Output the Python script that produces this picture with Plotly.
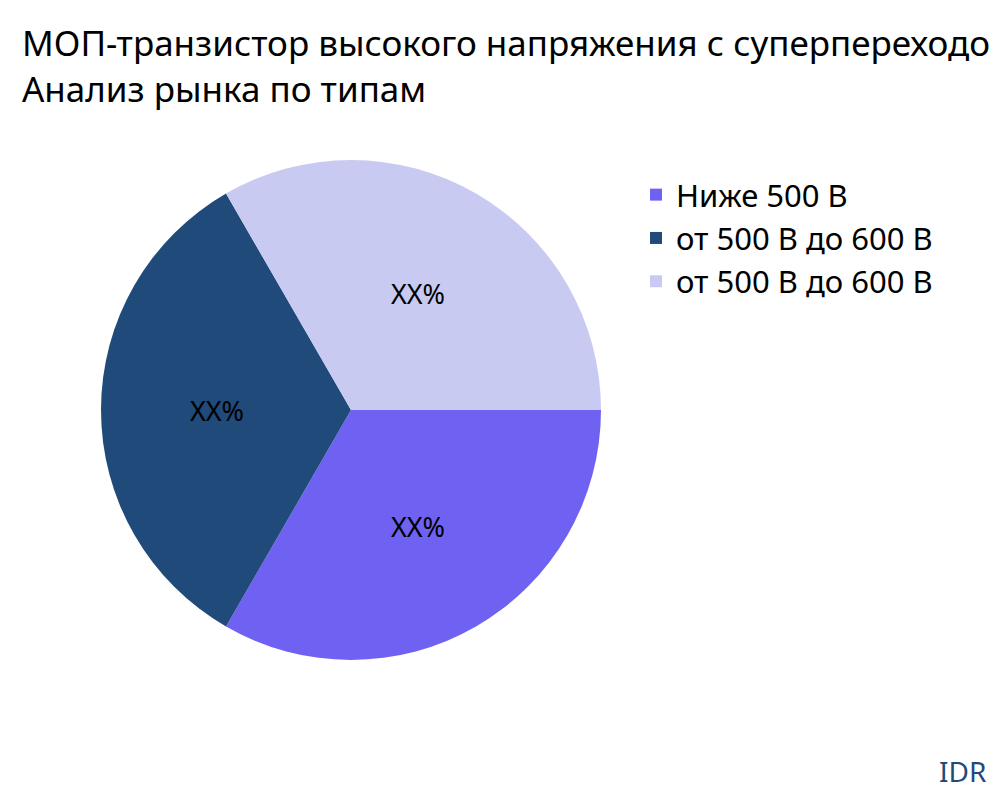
import plotly.graph_objects as go

labels = ["Ниже 500 В", "от 500 В до 600 В", "от 500 В до 600 В "]
values = [1, 1, 1]
colors = ["#6f62f2", "#1f4a7a", "#c8caf2"]

fig = go.Figure(go.Pie(
    labels=labels, values=values, sort=False, direction="clockwise", rotation=90,
    marker=dict(colors=colors), texttemplate="XX%", textposition="inside",
    insidetextfont=dict(color="black", size=27), hoverinfo="label",
    domain=dict(x=[0.093, 0.593], y=[0.185, 0.81]),
))
fig.update_layout(
    width=1000, height=800, margin=dict(l=0, r=0, t=0, b=0),
    font=dict(family="Noto Sans", color="black"),
    paper_bgcolor="white",
    title=dict(text="МОП-транзистор высокого напряжения с суперпереходом<br>Анализ рынка по типам",
               x=0.014, xanchor="left", y=0.94, yanchor="top", font=dict(size=35)),
    legend=dict(x=0.628, y=0.8, xanchor="left", yanchor="top", font=dict(size=31),
                itemsizing="constant"),
    annotations=[dict(text="IDR", x=0.98, y=0.02, xref="paper", yref="paper",
                      xanchor="right", yanchor="bottom", showarrow=False,
                      font=dict(size=28, color="#1f4a7a"))],
)
fig.write_html("out.html")
